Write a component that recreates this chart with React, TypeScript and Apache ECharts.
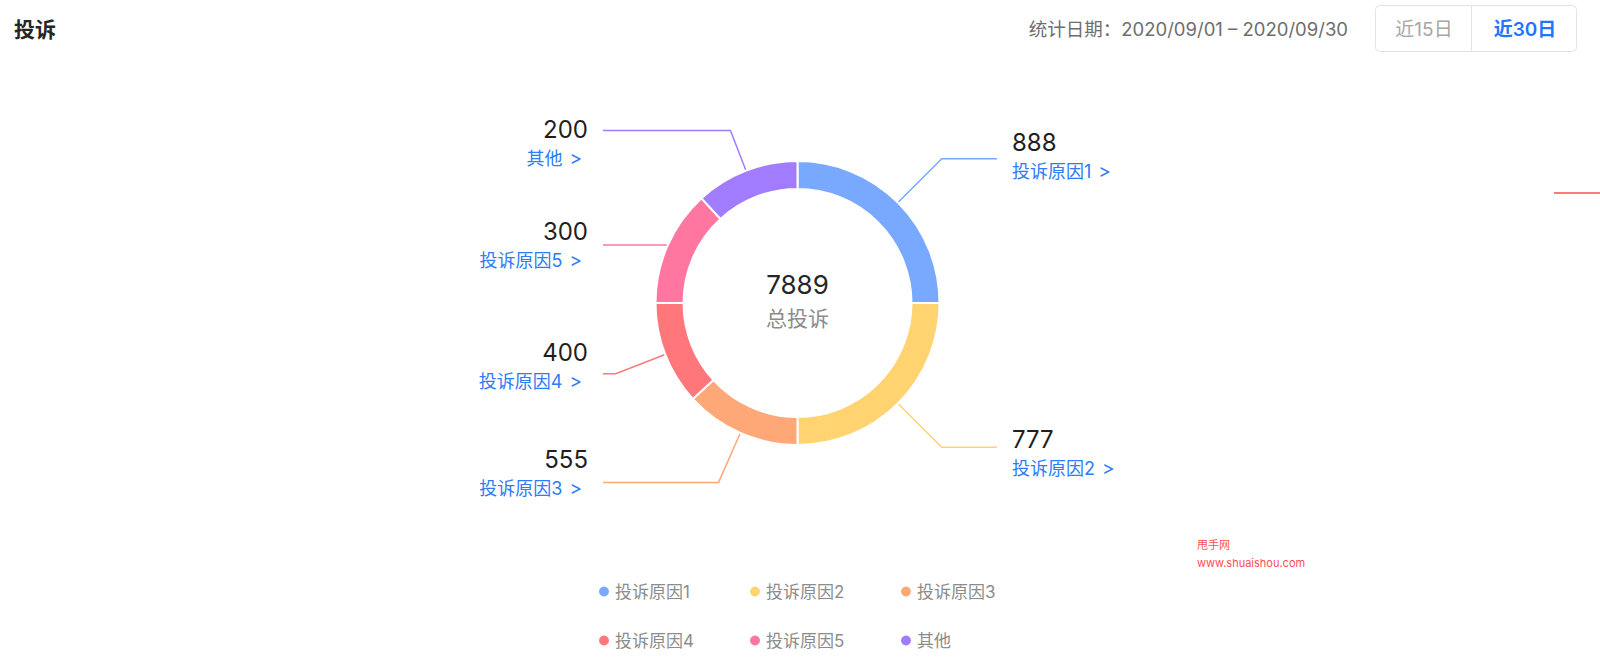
import React, { useEffect, useRef } from "react";
import * as echarts from "echarts";

// ---- data ----
const categories = ["投诉原因1", "投诉原因2", "投诉原因3", "投诉原因4", "投诉原因5", "其他"];
const complaintCounts = [888, 777, 555, 400, 300, 200];
// portion of the ring each slice covers in the picture (degrees)
const ringShares = [90, 90, 47.5, 42.5, 47.5, 42.5];
const totalComplaints = "7889";
const totalLabel = "总投诉";
const titleText = "投诉";
const dateRangeText = "统计日期：2020/09/01 – 2020/09/30";
const rangeButtons = ["近15日", "近30日"];
const watermarkLines = ["甩手网", "www.shuaishou.com"];

// ---- styles ----
const sliceColors = ["#78A9FF", "#FFD470", "#FFA877", "#FF777B", "#FF76A1", "#A17CFF"];
const leaderFirst = [62, 62, 54, 53, 2, 43];
const labelPads = [
  [0, 0, 4, 0],
  [12, 0, 0, 0],
  [0, 0, 17, 0],
  [0, 0, 15, 0],
  [0, 0, 0, 0],
  [26, 0, 0, 0],
];
const FONT = "Inter, 'Noto Sans CJK SC', sans-serif";
const LINK = "#2e7cf6";

export default function App() {
  const ref = useRef<HTMLDivElement>(null);

  useEffect(() => {
    document.body.style.margin = "0";
    if (!ref.current) return;
    const chart = echarts.init(ref.current, undefined, { renderer: "svg" });

    const totalShare = ringShares.reduce((a, b) => a + b, 0);
    let acc = 0;
    const onRight = ringShares.map((s) => {
      const mid = acc + s / 2;
      acc += s;
      return mid < totalShare / 2;
    });

    const cx = 797.5;
    const cy = 303;

    const option: any = {
      animation: false,
      backgroundColor: "#ffffff",
      legend: {
        left: 597,
        top: 577,
        width: 450,
        padding: 0,
        orient: "horizontal",
        icon: "circle",
        itemWidth: 12,
        itemHeight: 12,
        itemGap: 20,
        selectedMode: false,
        data: categories,
        textStyle: {
          fontSize: 17,
          color: "#8c8c8c",
          width: 113,
          lineHeight: 29,
          fontFamily: FONT,
        },
      },
      graphic: [
        {
          type: "text",
          x: 14,
          y: 29,
          style: { text: titleText, fontSize: 21, fontWeight: 600, fill: "#262626", verticalAlign: "middle", fontFamily: FONT },
        },
        {
          type: "text",
          x: 1348,
          y: 29,
          style: { text: dateRangeText, fontSize: 18.5, fill: "#6e6e6e", align: "right", verticalAlign: "middle", fontFamily: FONT },
        },
        {
          type: "rect",
          shape: { x: 1375.5, y: 5.5, width: 201, height: 46, r: 4 },
          style: { fill: "#ffffff", stroke: "#e3e3e3", lineWidth: 1 },
        },
        {
          type: "line",
          shape: { x1: 1471.5, y1: 5.5, x2: 1471.5, y2: 51.5 },
          style: { stroke: "#e3e3e3", lineWidth: 1 },
        },
        {
          type: "text",
          x: 1424,
          y: 29,
          style: { text: rangeButtons[0], fontSize: 19, fill: "#a6a6a6", align: "center", verticalAlign: "middle", fontFamily: FONT },
        },
        {
          type: "text",
          x: 1525,
          y: 29,
          style: { text: rangeButtons[1], fontSize: 19, fontWeight: 600, fill: "#1f75fe", align: "center", verticalAlign: "middle", fontFamily: FONT },
        },
        {
          type: "text",
          x: cx,
          y: 284,
          style: { text: totalComplaints, fontSize: 26, fill: "#262626", align: "center", verticalAlign: "middle", fontFamily: FONT },
        },
        {
          type: "text",
          x: cx,
          y: 318,
          style: { text: totalLabel, fontSize: 21, fill: "#8c8c8c", align: "center", verticalAlign: "middle", fontFamily: FONT },
        },
        {
          type: "line",
          shape: { x1: 1554, y1: 193, x2: 1600, y2: 193 },
          style: { stroke: "#ff4d4f", lineWidth: 1.5 },
        },
        {
          type: "text",
          x: 1197,
          y: 545,
          style: { text: watermarkLines[0], fontSize: 11, fill: "#ff4d4f", verticalAlign: "middle", fontFamily: FONT },
        },
        {
          type: "text",
          x: 1197,
          y: 563,
          style: { text: watermarkLines[1], fontSize: 11, fill: "#ff4d4f", verticalAlign: "middle", fontFamily: FONT },
        },
      ],
      series: [
        {
          type: "pie",
          left: 0,
          top: 0,
          right: 0,
          bottom: 0,
          center: [cx, cy],
          radius: [114, 142],
          startAngle: 90,
          clockwise: true,
          avoidLabelOverlap: true,
          emphasis: { disabled: true },
          itemStyle: { borderColor: "#ffffff", borderWidth: 2 },
          label: {
            show: true,
            position: "outside",
            alignTo: "edge",
            edgeDistance: 478,
            width: 110,
            backgroundColor: "rgba(255,255,255,0)",
            distanceToLabelLine: 15,
            fontFamily: FONT,
            formatter: (p: any) => {
              const i = p.dataIndex;
              const s = onRight[i] ? "R" : "L";
              return `{num${s}|${complaintCounts[i]}}\n{name${s}|${categories[i]}}{arrow${s}|>}`;
            },
            rich: {
              numL: { fontSize: 24, lineHeight: 30, color: "#1f1f1f", align: "right", fontFamily: FONT },
              nameL: { fontSize: 18, lineHeight: 28, color: LINK, align: "right", fontFamily: FONT },
              arrowL: { fontSize: 19, lineHeight: 28, color: LINK, align: "right", padding: [0, 6, 0, 7], fontFamily: FONT },
              numR: { fontSize: 24, lineHeight: 30, color: "#1f1f1f", align: "left", fontFamily: FONT },
              nameR: { fontSize: 18, lineHeight: 28, color: LINK, align: "left", fontFamily: FONT },
              arrowR: { fontSize: 19, lineHeight: 28, color: LINK, align: "left", padding: [0, 0, 0, 7], fontFamily: FONT },
            },
          },
          labelLine: {
            show: true,
            length: 40,
            length2: 20,
            smooth: false,
            lineStyle: { width: 1.5 },
          },
          data: categories.map((name, i) => ({
            name,
            value: ringShares[i],
            itemStyle: { color: sliceColors[i] },
            label: { padding: labelPads[i] },
            labelLine: { length: leaderFirst[i] },
          })),
        },
      ],
    };

    chart.setOption(option);
    return () => chart.dispose();
  }, []);

  return (
    <div
      ref={ref}
      style={{ position: "absolute", left: 0, top: 0, width: 1600, height: 670 }}
    />
  );
}
